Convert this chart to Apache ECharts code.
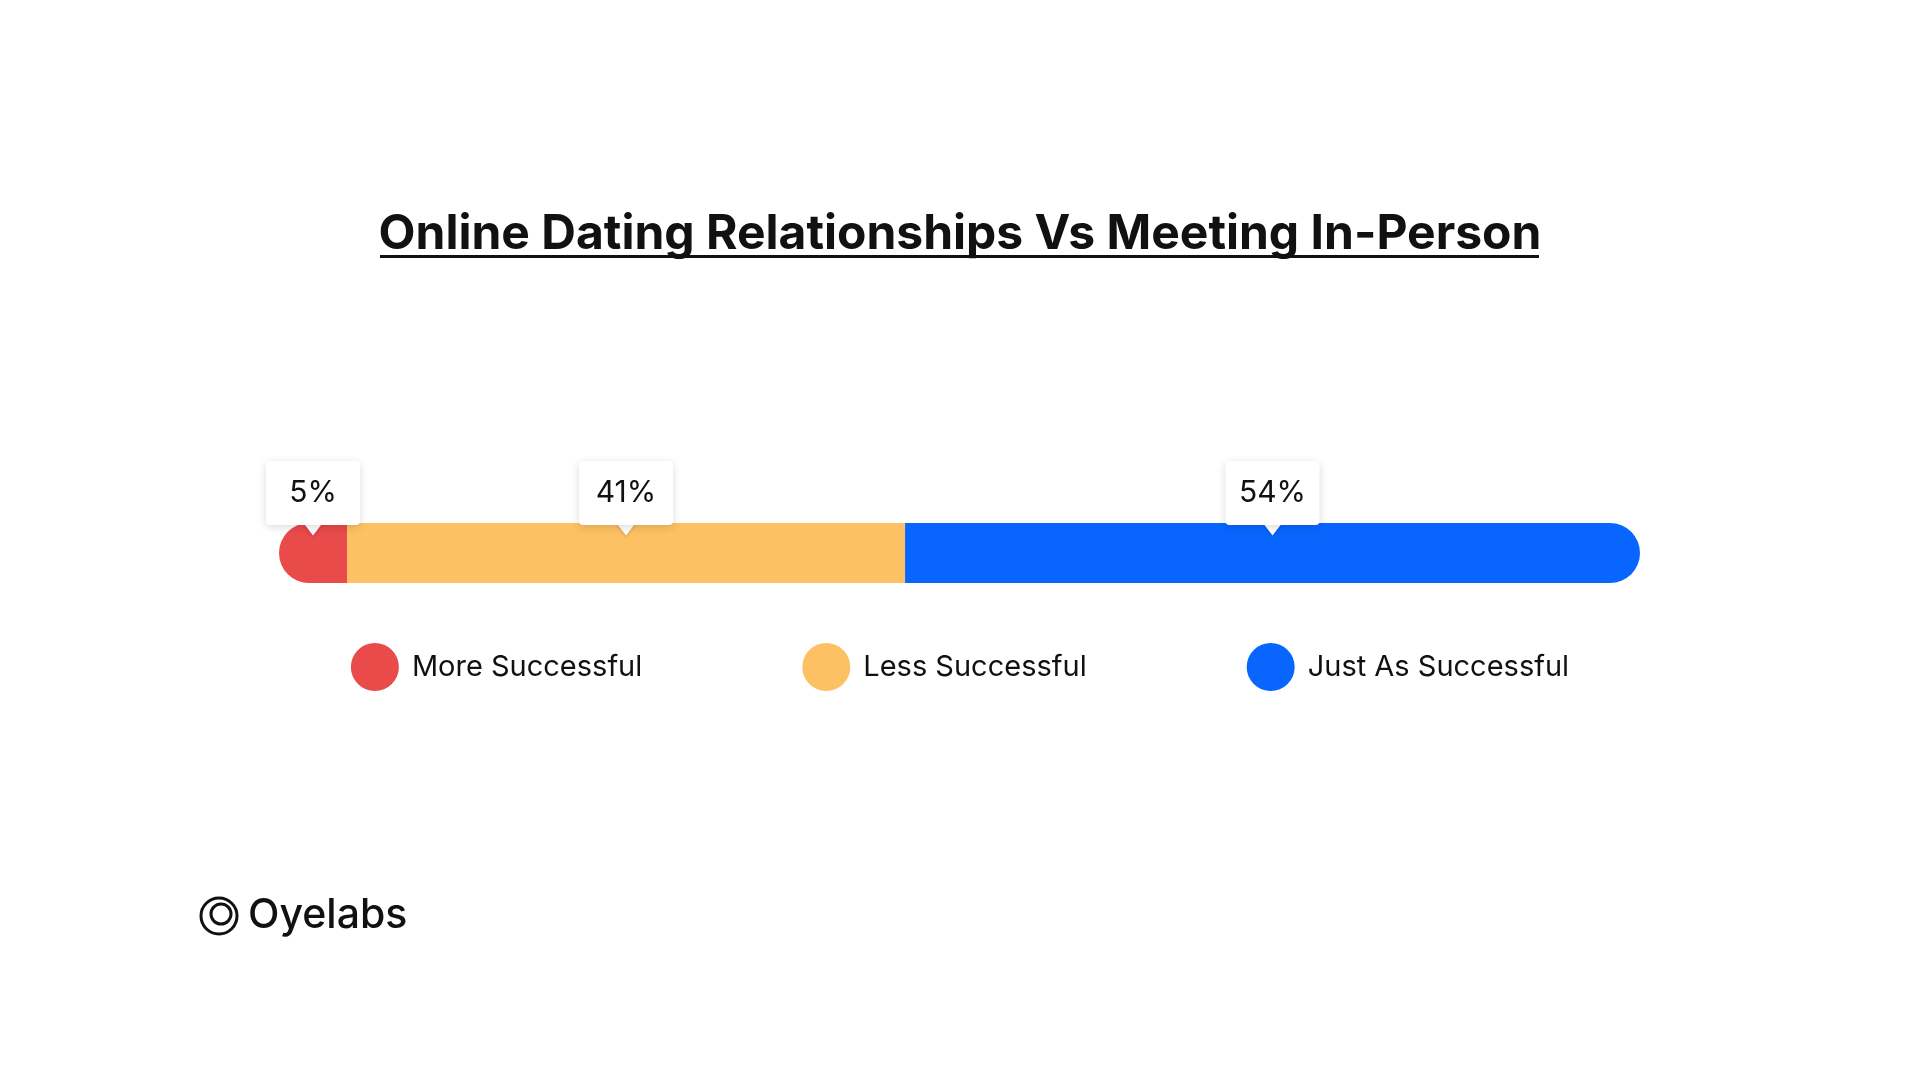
<!DOCTYPE html>
<html>
<head>
<meta charset="utf-8">
<script src="https://cdn.jsdelivr.net/npm/echarts@6/dist/echarts.min.js"></script>
<style>html,body{margin:0;background:#fff}#c{width:1920px;height:1080px}</style>
</head>
<body>
<div id="c"></div>
<script>
const categories = ['More Successful', 'Less Successful', 'Just As Successful'];
const values = [5, 41, 54];
const colors = ['#e94a4a', '#fdc163', '#0866ff'];

const chart = echarts.init(document.getElementById('c'));
const font = 'Inter, "Noto Sans", sans-serif';

// segment middles for the label pointers
let acc = 0;
const mids = values.map(v => { const m = acc + v / 2; acc += v; return m; });

const series = values.map((v, i) => ({
  name: categories[i],
  type: 'bar',
  stack: 'all',
  barWidth: 60,
  data: [v],
  itemStyle: {
    color: colors[i],
    borderRadius: i === 0 ? [30, 0, 0, 30] : i === values.length - 1 ? [0, 30, 30, 0] : 0
  },
  label: { show: false }
}));

series.push({
  type: 'scatter',
  data: mids.map((m, i) => ({ value: [m, 0], label: { formatter: values[i] + '%' } })),
  symbol: 'triangle',
  symbolRotate: 180,
  symbolSize: [20, 13],
  symbolOffset: [0, -24],
  itemStyle: { color: '#fff', opacity: 1, shadowColor: 'rgba(0,0,0,0.12)', shadowBlur: 3, shadowOffsetY: 2 },
  label: {
    show: true,
    position: 'inside',
    offset: [0, -36],
    width: 94,
    height: 64,
    align: 'center',
    verticalAlign: 'middle',
    lineHeight: 64,
    backgroundColor: '#fff',
    borderRadius: 4,
    shadowColor: 'rgba(0,0,0,0.15)',
    shadowBlur: 8,
    shadowOffsetY: 2,
    fontFamily: font,
    fontSize: 30,
    color: '#111'
  },
  emphasis: { disabled: true },
  z: 5
});

chart.setOption({
  animation: false,
  grid: { left: 279, right: 280, top: 523, height: 60 },
  xAxis: { type: 'value', min: 0, max: 100, show: false },
  yAxis: { type: 'category', data: ['share'], show: false },
  legend: {
    data: categories,
    top: 638,
    left: 'center',
    icon: 'circle',
    itemWidth: 48,
    itemHeight: 48,
    itemGap: 160,
    textStyle: { fontFamily: font, fontSize: 29, color: '#111', padding: [0, 0, 0, 8] }
  },
  color: colors,
  series,
  graphic: [
    {
      type: 'text', left: 'center', top: 211,
      style: { text: 'Online Dating Relationships Vs Meeting In-Person', fontFamily: font, fontSize: 48, fontWeight: 'bold', fill: '#111' }
    },
    { type: 'rect', shape: { x: 380, y: 255, width: 1159, height: 3 }, style: { fill: '#111' } },
    { type: 'circle', shape: { cx: 219, cy: 916, r: 18 }, style: { fill: 'none', stroke: '#111', lineWidth: 3 } },
    { type: 'circle', shape: { cx: 221, cy: 914, r: 10 }, style: { fill: 'none', stroke: '#111', lineWidth: 3 } },
    {
      type: 'text', left: 248, top: 895,
      style: { text: 'Oyelabs', fontFamily: font, fontSize: 41, fontWeight: 500, fill: '#111' }
    }
  ]
});
</script>
</body>
</html>
